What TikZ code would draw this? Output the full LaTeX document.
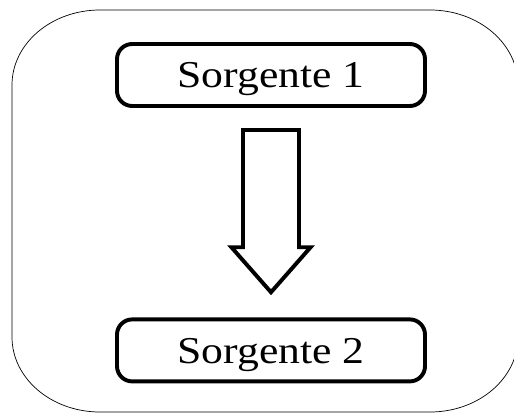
\documentclass[tikz,border=0pt]{standalone}
\usepackage{fontspec}
\setmainfont{Liberation Serif}
\usetikzlibrary{calc}

\begin{document}
\begin{tikzpicture}[
    box/.style={draw=black, line width=2.8pt, rounded corners=0.38cm,
        minimum width=7.7cm, minimum height=1.55cm, inner sep=0pt,
        font=\addfontfeature{FakeStretch=1.15}\fontsize{27}{32}\selectfont,
        text height=18pt, text depth=0pt},
    frame/.style={draw=black, line width=0.5pt},
    blockarrow/.style={draw=black, fill=white, line width=2.8pt, line join=miter},
]
\useasboundingbox (0,0) rectangle (12.85,-10.3);

% ============================================================ the outer frame
\begin{scope}
\clip (0,0) rectangle (12.85,-10.3);
\draw[frame] (2.5,-0.25) -- (10.75,-0.25)
    arc[start angle=90, end angle=0, x radius=2.2, y radius=1.875]
    -- (12.95,-8.425)
    arc[start angle=0, end angle=-90, x radius=2.2, y radius=1.875]
    -- (2.5,-10.3)
    arc[start angle=270, end angle=180, x radius=2.2, y radius=1.875]
    -- (0.3,-2.125)
    arc[start angle=180, end angle=90, x radius=2.2, y radius=1.875]
    -- cycle;
\end{scope}

% ============================================================ the two sources
\node[box] (src1) at (6.775,-1.875) {Sorgente 1};
\node[box] (src2) at (6.775,-8.76) {Sorgente 2};

% ============================================================ the block arrow
\coordinate (top) at ($(src1.south)+(0,-0.55)$);
\coordinate (tip) at ($(src2.north)+(0,0.63)$);
\draw[blockarrow] ($(top)+(-0.7,0)$) -- ($(top)+(0.7,0)$)
    -- ($(tip)+(0.7,1.125)$) -- ($(tip)+(0.99,1.125)$) -- (tip)
    -- ($(tip)+(-0.99,1.125)$) -- ($(tip)+(-0.7,1.125)$) -- cycle;

\end{tikzpicture}
\end{document}
